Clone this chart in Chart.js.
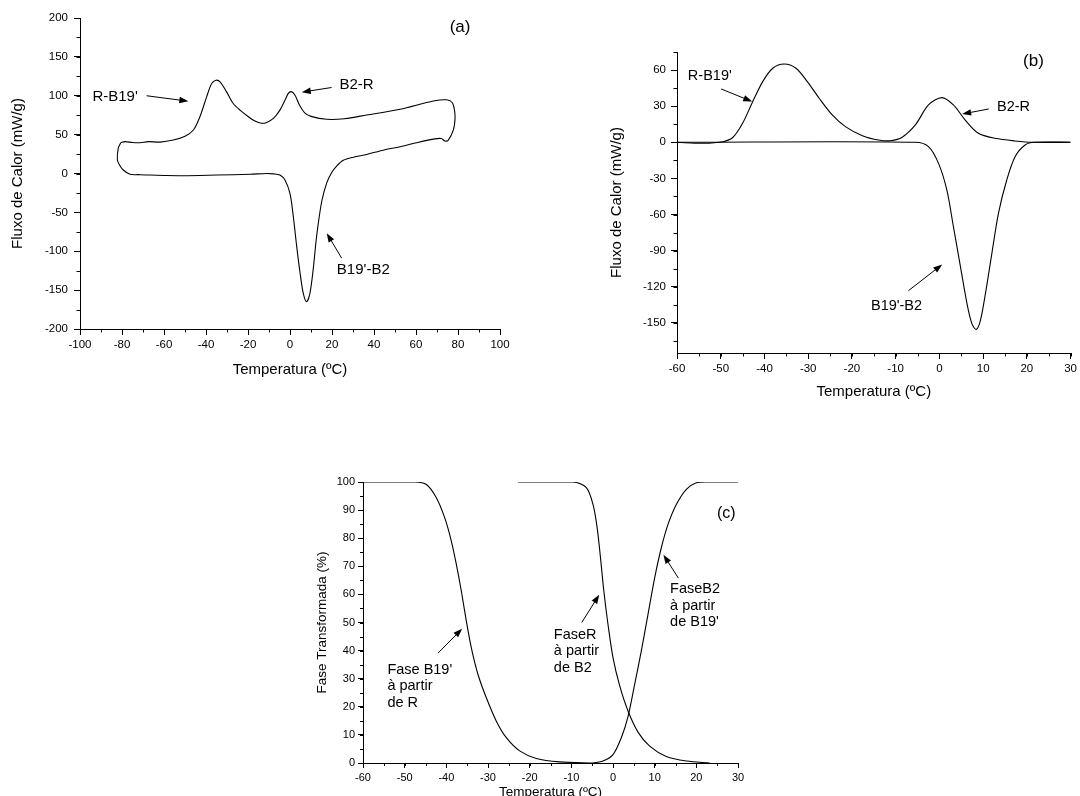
<!DOCTYPE html>
<html>
<head>
<meta charset="utf-8">
<script src="https://cdn.jsdelivr.net/npm/chart.js@4.4.0/dist/chart.umd.min.js"></script>
<style>
html, body { margin: 0; padding: 0; background: #fff; width: 1080px; height: 796px; overflow: hidden; }
.box { position: absolute; }
</style>
</head>
<body>
<div class="box" style="left:0;top:0;width:520px;height:390px"><canvas id="chartA"></canvas></div>
<div class="box" style="left:560px;top:0;width:520px;height:405px"><canvas id="chartB"></canvas></div>
<div class="box" style="left:280px;top:430px;width:480px;height:370px"><canvas id="chartC"></canvas></div>
<script>
// (a) DSC loop: cooling branch (top) then heating branch (bottom)
var aUpperT = [-80.6, -78.6, -75, -71.4, -67.5, -61.9, -55.6, -50, -46, -42.9, -39.7, -37.3, -35.2, -33.3, -30.2, -27, -23.8, -19.8, -16.7, -13.5, -11.1, -7.9, -4.8, -2.4, -0.8, 0.6, 2.4, 4.5, 7, 10, 17.5, 26, 36.5, 52.4, 68.3, 74.6, 77.3, 78.3, 78.6];
var aUpperQ = [39.6, 41, 39.8, 39.6, 41, 40.4, 43, 48, 56, 73, 98.6, 115.7, 120, 117.9, 105, 90, 81.5, 73, 67.4, 64.6, 65.7, 70.8, 81.5, 94.3, 103, 105.3, 100.7, 88, 78, 73.5, 69.7, 70.5, 75.2, 82.6, 93.2, 94.8, 91, 82, 71];
var aLowerT = [77.8, 75.4, 73.8, 72, 69, 60.3, 52.4, 44.4, 36.5, 30.2, 25.4, 22.2, 19.8, 17.5, 15.1, 12.7, 11.1, 9.5, 7.9, 6.3, 4.8, 3.2, 1.6, 0, -2.4, -4.8, -8, -11.1, -19, -34.9, -50.8, -66.7, -72, -76.2, -79.4, -81.2, -82.2, -81.8, -80.6];
var aLowerQ = [56, 43, 41.8, 45, 44.5, 39.6, 34.5, 30, 24.5, 21, 17, 9.5, 1, -12, -36, -80, -122, -154, -165, -154, -128, -94, -56, -26, -8.5, -2, -0.5, 0, -1, -2, -2.8, -2, -1.5, -1, 4.5, 11, 17.4, 32.4, 39.6];

// (b) baseline-corrected peaks
var bExoT = [-60, -54.1, -49.5, -47.2, -45, -42.7, -40.4, -38.1, -35.5, -32.8, -30.2, -27.5, -24.5, -21.5, -17.6, -13.9, -11.2, -8.5, -5.5, -2.5, 0.6, 3.2, 5.9, 8.9, 12.7, 17.3, 21.6, 30];
var bExoQ = [0, -0.8, 0.5, 4.2, 15.8, 33.7, 50.4, 61.5, 65, 61.5, 50.4, 36.6, 22.7, 13, 5.5, 1.9, 1.3, 4.2, 14.4, 31, 37.1, 31, 18.5, 7.5, 3.3, 1.1, 0, 0];
var bEndoT = [-60, -5.5, -2.5, -0.2, 1.7, 3.2, 4.8, 6.3, 7.4, 8.4, 9.3, 10.4, 12, 13.5, 15.4, 17.3, 19.6, 21.8, 30];
var bEndoQ = [0, 0, -3.6, -17.5, -39.6, -70, -103, -133.8, -150.4, -155.4, -149, -128.3, -92.2, -59, -31.3, -12, -2.2, 0, 0];

// (c) transformed fraction
var cB19T = [-60, -47.6, -44.8, -42.4, -40.4, -38.8, -37.6, -36.4, -35.2, -34, -32.4, -30.4, -28, -25.6, -22.4, -18.4, -12.8, -4.8];
var cB19F = [100, 100, 99.1, 94.4, 87.3, 79, 70.7, 61.2, 50.5, 41, 31.5, 23.2, 14.9, 9, 4.3, 1.6, 0.4, 0];
var cRT = [-22.8, -9.6, -6.4, -4.8, -3.8, -3, -2.2, -1.2, 0, 1.6, 3.6, 6, 8.8, 12.8, 17.6, 23.2];
var cRF = [100, 100, 98, 92, 83.7, 73, 61.2, 49.3, 37.5, 27.5, 18.5, 11, 6, 2.3, 0.7, 0];
var cB2T = [-4.8, -2.4, 0, 2, 3.6, 5.2, 6.8, 8.4, 10, 11.6, 13.2, 15.2, 17.6, 20, 22.4, 30];
var cB2F = [0, 0.7, 3, 9, 16.5, 28, 39.9, 52.9, 65.9, 76.6, 84.9, 92, 97.4, 99.7, 100, 100];

Chart.defaults.font.family = "'Liberation Sans', Arial, sans-serif";
Chart.defaults.color = '#000';

function pts(xs, ys) {
    return xs.map(function (x, i) { return { x: x, y: ys[i] }; });
}

function curve(data, tension) {
    return {
        data: data,
        showLine: true,
        borderColor: '#000',
        borderWidth: 1.1,
        pointRadius: 0,
        fill: false,
        tension: tension
    };
}

function makeAxis(o) {
    return {
        type: 'linear', min: o.min, max: o.max,
        border: { display: true, color: '#000', width: 1 },
        grid: { drawOnChartArea: false, drawTicks: true, tickLength: o.tick, color: '#000' },
        ticks: { stepSize: o.step, includeBounds: false, autoSkip: false, maxRotation: 0, padding: o.pad, color: '#000', font: { size: o.font } },
        title: { display: true, text: o.title, color: '#000', font: { size: o.titleSize }, padding: o.titlePad },
        afterFit: function (s) { if (s.isHorizontal()) s.height = o.fit; else s.width = o.fit; }
    };
}

// minor ticks, labels and arrows
var decorPlugin = {
    id: 'decor',
    afterDraw: function (chart, args, opts) {
        var ctx = chart.ctx, xs = chart.scales.x, ys = chart.scales.y, area = chart.chartArea;
        ctx.save();
        ctx.strokeStyle = '#000';
        ctx.fillStyle = '#000';
        ctx.lineWidth = 1;
        var v, p;
        for (v = xs.min; v <= xs.max + 1e-9; v += opts.minorX) {
            p = Math.round(xs.getPixelForValue(v)) + 0.5;
            ctx.beginPath(); ctx.moveTo(p, area.bottom); ctx.lineTo(p, area.bottom + opts.minorLen); ctx.stroke();
        }
        for (v = Math.ceil(ys.min / opts.minorY) * opts.minorY; v <= ys.max + 1e-9; v += opts.minorY) {
            p = Math.round(ys.getPixelForValue(v)) + 0.5;
            ctx.beginPath(); ctx.moveTo(area.left, p); ctx.lineTo(area.left - opts.minorLen, p); ctx.stroke();
        }
        opts.labels.forEach(function (l) {
            ctx.font = l.size + "px 'Liberation Sans', Arial, sans-serif";
            ctx.textAlign = l.align || 'center';
            ctx.textBaseline = 'middle';
            var x0 = xs.getPixelForValue(l.x), y0 = ys.getPixelForValue(l.y);
            l.text.forEach(function (t, i) { ctx.fillText(t, x0, y0 + i * (l.lh || 0)); });
        });
        opts.arrows.forEach(function (a) {
            var x1 = xs.getPixelForValue(a[0]), y1 = ys.getPixelForValue(a[1]);
            var x2 = xs.getPixelForValue(a[2]), y2 = ys.getPixelForValue(a[3]);
            var ang = Math.atan2(y2 - y1, x2 - x1), L = 9, W = 3.2;
            ctx.beginPath(); ctx.moveTo(x1, y1);
            ctx.lineTo(x2 - L * 0.7 * Math.cos(ang), y2 - L * 0.7 * Math.sin(ang)); ctx.stroke();
            ctx.beginPath(); ctx.moveTo(x2, y2);
            ctx.lineTo(x2 - L * Math.cos(ang) + W * Math.sin(ang), y2 - L * Math.sin(ang) - W * Math.cos(ang));
            ctx.lineTo(x2 - L * Math.cos(ang) - W * Math.sin(ang), y2 - L * Math.sin(ang) + W * Math.cos(ang));
            ctx.closePath(); ctx.fill();
        });
        ctx.restore();
    }
};

function baseOptions(padding, xAxis, yAxis, decor) {
    return {
        responsive: true,
        maintainAspectRatio: false,
        animation: false,
        layout: { padding: padding },
        plugins: { legend: { display: false }, tooltip: { enabled: false }, decor: decor },
        scales: { x: xAxis, y: yAxis }
    };
}

new Chart(document.getElementById('chartA').getContext('2d'), {
    type: 'scatter',
    data: { datasets: [curve(pts(aUpperT.concat(aLowerT), aUpperQ.concat(aLowerQ)), 0.3)] },
    plugins: [decorPlugin],
    options: baseOptions(
        { top: 18, right: 20, left: 0, bottom: 0 },
        makeAxis({ min: -100, max: 100, step: 20, tick: 6, pad: 3, font: 11.5, title: 'Temperatura (ºC)', titleSize: 15, titlePad: { top: 0, bottom: 11 }, fit: 61 }),
        makeAxis({ min: -200, max: 200, step: 50, tick: 6, pad: 6, font: 11.5, title: 'Fluxo de Calor (mW/g)', titleSize: 15, titlePad: { top: 9, bottom: 0 }, fit: 80 }),
        {
            minorX: 10, minorY: 25, minorLen: 3.5,
            labels: [
                { text: ["R-B19'"], x: -83.3, y: 98.6, size: 15 },
                { text: ['B2-R'], x: 31.7, y: 113.6, size: 15 },
                { text: ["B19'-B2"], x: 34.9, y: -123.9, size: 15 },
                { text: ['(a)'], x: 81, y: 188.4, size: 17 }
            ],
            arrows: [[-68.3, 100, -48.4, 93], [19.8, 110.6, 5.6, 104.6], [24.6, -108.9, 17.5, -76.8]]
        })
});

new Chart(document.getElementById('chartB').getContext('2d'), {
    type: 'scatter',
    data: { datasets: [curve(pts(bExoT, bExoQ), 0.3), curve(pts(bEndoT, bEndoQ), 0.3)] },
    plugins: [decorPlugin],
    options: baseOptions(
        { top: 52, right: 8, left: 0, bottom: 0 },
        makeAxis({ min: -60, max: 30, step: 10, tick: 6, pad: 3, font: 11.5, title: 'Temperatura (ºC)', titleSize: 15, titlePad: { top: 0, bottom: 4 }, fit: 52 }),
        makeAxis({ min: -175, max: 75, step: 30, tick: 6, pad: 5, font: 11.5, title: 'Fluxo de Calor (mW/g)', titleSize: 15, titlePad: { top: 48, bottom: 0 }, fit: 117 }),
        {
            minorX: 5, minorY: 15, minorLen: 3.5,
            labels: [
                { text: ["R-B19'"], x: -52.5, y: 55.4, size: 14.5 },
                { text: ['B2-R'], x: 16.95, y: 29.6, size: 14.5 },
                { text: ["B19'-B2"], x: -9.8, y: -135.7, size: 14.5 },
                { text: ['(b)'], x: 21.5, y: 67, size: 17 }
            ],
            arrows: [[-49.9, 44.3, -42.8, 33.8], [11.3, 27.7, 5.2, 23.5], [-7.1, -123.3, 0.65, -101.4]]
        })
});

new Chart(document.getElementById('chartC').getContext('2d'), {
    type: 'scatter',
    data: { datasets: [curve(pts(cB19T, cB19F), 0.3), curve(pts(cRT, cRF), 0.3), curve(pts(cB2T, cB2F), 0.3)] },
    plugins: [decorPlugin],
    options: baseOptions(
        { top: 52, right: 22, left: 0, bottom: 0 },
        makeAxis({ min: -60, max: 30, step: 10, tick: 5, pad: 3, font: 11, title: 'Temperatura (ºC)', titleSize: 13.5, titlePad: { top: 0, bottom: 0 }, fit: 37 }),
        makeAxis({ min: 0, max: 100, step: 10, tick: 5, pad: 3, font: 11, title: 'Fase Transformada (%)', titleSize: 13.5, titlePad: { top: 34, bottom: 0 }, fit: 83 }),
        {
            minorX: 5, minorY: 5, minorLen: 3,
            labels: [
                { text: ["Fase B19'", 'à partir', 'de R'], x: -54.15, y: 33.2, size: 14.5, align: 'left', lh: 16.7 },
                { text: ['FaseR', 'à partir', 'de B2'], x: -14.2, y: 45.7, size: 14.5, align: 'left', lh: 16.7 },
                { text: ['FaseB2', 'à partir', "de B19'"], x: 13.7, y: 61.9, size: 14.5, align: 'left', lh: 16.7 },
                { text: ['(c)'], x: 27.2, y: 88.7, size: 16 }
            ],
            arrows: [[-42, 39.1, -36.2, 47.8], [-7.5, 50, -3.3, 59.9], [15.7, 65.8, 12.1, 74.1]]
        })
});
</script>
</body>
</html>
